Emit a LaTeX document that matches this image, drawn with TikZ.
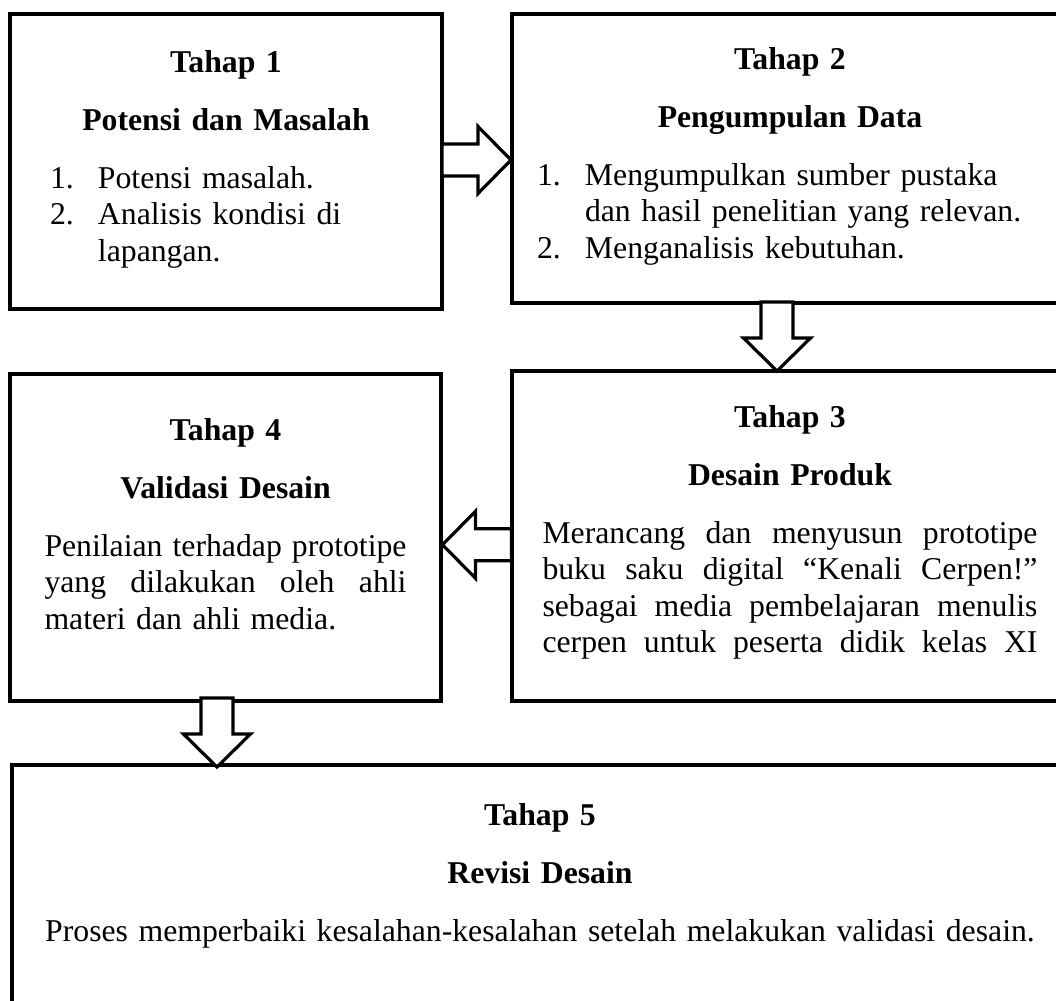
\documentclass[tikz,border=0pt]{standalone}
\usepackage{fontspec}
\setmainfont{Liberation Serif}
\usetikzlibrary{calc}

\newcommand{\stagetitle}[2]{{\centering\bfseries #1\par\vspace{16.1pt}#2\par}\vspace{16.1pt}}
\newcommand{\stageitem}[2]{\par\noindent\hangindent=36pt\hangafter=1\makebox[36pt][l]{#1}#2\par}
\newcommand{\fullline}[1]{\par\noindent\hbox to\hsize{#1}\par}

\begin{document}
\begin{tikzpicture}[x=0.75pt, y=-0.75pt,
  stagebox/.style={draw, line width=3pt, rectangle, anchor=north west, inner sep=0pt, outer sep=0pt},
  stagetext/.style={anchor=base, inner sep=0pt, font=\fontsize{23.8pt}{27.4pt}\selectfont},
  blockarrow/.style={draw, fill=white, line width=2.4pt, line join=miter},
  pics/hollowarrow/.style={code={
    \draw[blockarrow] (-35,-16) -- (1,-16) -- (1,-33.5) -- (34,0) -- (1,33.5) -- (1,16) -- (-35,16) -- cycle;}}]
\useasboundingbox (0,0) rectangle (1056,1000);

\node[stagebox, minimum width=324pt, minimum height=221.25pt] (box1) at (10,14) {};
\node[stagebox, minimum width=417pt, minimum height=216.75pt] (box2) at (512,14) {};
\node[stagebox, minimum width=417pt, minimum height=247.5pt] (box3) at (512,371) {};
\node[stagebox, minimum width=323.25pt, minimum height=245.25pt] (box4) at (10,374) {};
\node[stagebox, minimum width=792pt, minimum height=187.5pt] (box5) at (12,765) {};

\node[stagetext, text width=264pt] (text1) at ($(box1.north)+(0,58)$)
{\stagetitle{Tahap 1}{Potensi dan Masalah}%
 \stageitem{1.}{Potensi masalah.}%
 \stageitem{2.}{Analisis kondisi di\newline lapangan.}};
\node[stagetext, text width=379.5pt] (text2) at ($(box2.north)+(0,55)$)
{\stagetitle{Tahap 2}{Pengumpulan Data}%
 \stageitem{1.}{Mengumpulkan sumber pustaka\newline dan hasil penelitian yang relevan.}%
 \stageitem{2.}{Menganalisis kebutuhan.}};
\node[stagetext, text width=371.25pt] (text3) at ($(box3.north)+(0,56)$)
{\stagetitle{Tahap 3}{Desain Produk}%
 \fullline{Merancang\hfill dan\hfill menyusun\hfill prototipe}%
 \fullline{buku\hfill saku\hfill digital\hfill “Kenali\hfill Cerpen!”}%
 \fullline{sebagai\hfill media\hfill pembelajaran\hfill menulis}%
 \fullline{cerpen\hfill untuk\hfill peserta\hfill didik\hfill kelas\hfill XI}};
\node[stagetext, text width=271.5pt] (text4) at ($(box4.north)+(0,66)$)
{\stagetitle{Tahap 4}{Validasi Desain}%
 \fullline{Penilaian\hfill terhadap\hfill prototipe}%
 \fullline{yang\hfill dilakukan\hfill oleh\hfill ahli}%
 \noindent materi dan ahli media.\par};
\node[stagetext, text width=760pt] (text5) at ($(box5.north)+(0,60)$)
{\stagetitle{Tahap 5}{Revisi Desain}%
 \centering Proses memperbaiki kesalahan-kesalahan setelah melakukan validasi desain.\par};

% arrows between the stages
\coordinate (a12) at ($(box1.east)!0.5!(box2.west)$);
\coordinate (a23) at ($([xshift=-9.75pt]box2.south)!0.5!([xshift=-9.75pt]box3.north)$);
\coordinate (a34) at ($([yshift=-6pt]box3.west)!0.5!([yshift=-6pt]box4.east)$);
\coordinate (a45) at ($([xshift=-6.4pt]box4.south)!0.5!([xshift=-6.4pt]box4.south |- box5.north)$);
\pic at (a12) {hollowarrow};
\pic[rotate=-90] at (a23) {hollowarrow};
\pic[rotate=180] at (a34) {hollowarrow};
\pic[rotate=-90] at (a45) {hollowarrow};
\end{tikzpicture}
\end{document}
